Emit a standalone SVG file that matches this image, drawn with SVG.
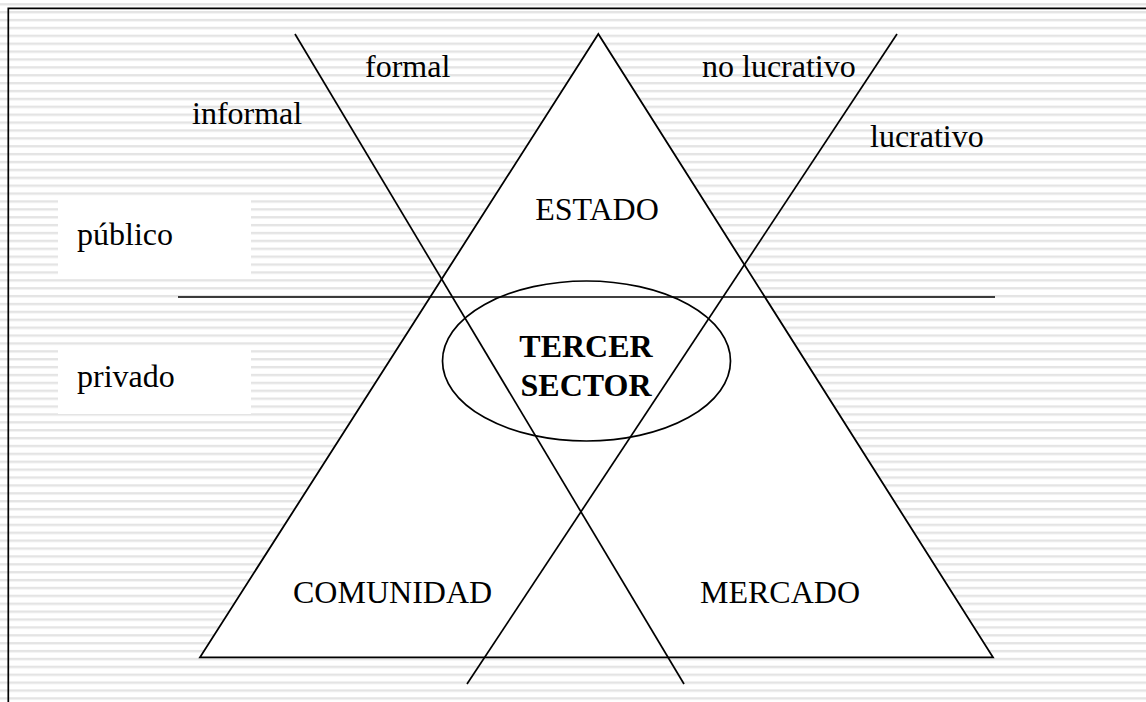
<svg xmlns="http://www.w3.org/2000/svg" width="1146" height="702" viewBox="0 0 1146 702">
<defs>
<pattern id="stripes" x="0" y="3.1" width="20" height="7.888" patternUnits="userSpaceOnUse">
<rect x="0" y="0" width="20" height="2.4" fill="#e4e4e4"/>
</pattern>
</defs>
<style>
.t{font-family:"Liberation Serif","Times New Roman",serif;font-size:32px;fill:#000}
.b{font-weight:bold}
.ln{stroke:#000;stroke-width:1.7;fill:none}
.box{fill:#fff;stroke:none}
</style>
<rect width="1146" height="702" fill="#fff"/>
<rect width="1146" height="702" fill="url(#stripes)"/>
<g id="frame"><path class="ln" d="M8.3 702 V8.3 H1146"/></g>
<g id="triangle"><polygon points="598.3,34 200,657.3 993,657.3" fill="#fff" stroke="#000" stroke-width="1.8"/></g>
<g id="publico"><rect class="box" x="58" y="199" width="193" height="76"/><text class="t" x="77" y="245">público</text></g>
<g id="privado"><rect class="box" x="58" y="346" width="193" height="68"/><text class="t" x="77" y="387">privado</text></g>
<g id="connectors">
<line class="ln" x1="178" y1="297" x2="995" y2="297"/>
<line class="ln" x1="295" y1="34" x2="684" y2="684"/>
<line class="ln" x1="897" y1="34" x2="467" y2="684"/>
</g>
<g id="tercer-sector"><ellipse class="ln" cx="586.5" cy="361" rx="144" ry="80"/>
<text class="t b" x="586" y="357" text-anchor="middle">TERCER</text>
<text class="t b" x="586" y="396" text-anchor="middle">SECTOR</text></g>
<g id="estado"><text class="t" x="597" y="220" text-anchor="middle">ESTADO</text></g>
<g id="comunidad"><text class="t" x="293" y="603">COMUNIDAD</text></g>
<g id="mercado"><text class="t" x="700" y="603">MERCADO</text></g>
<g id="informal"><text class="t" x="192" y="124">informal</text></g>
<g id="formal"><text class="t" x="365" y="77">formal</text></g>
<g id="no-lucrativo"><text class="t" x="702" y="77">no lucrativo</text></g>
<g id="lucrativo"><text class="t" x="870" y="147">lucrativo</text></g>
</svg>
